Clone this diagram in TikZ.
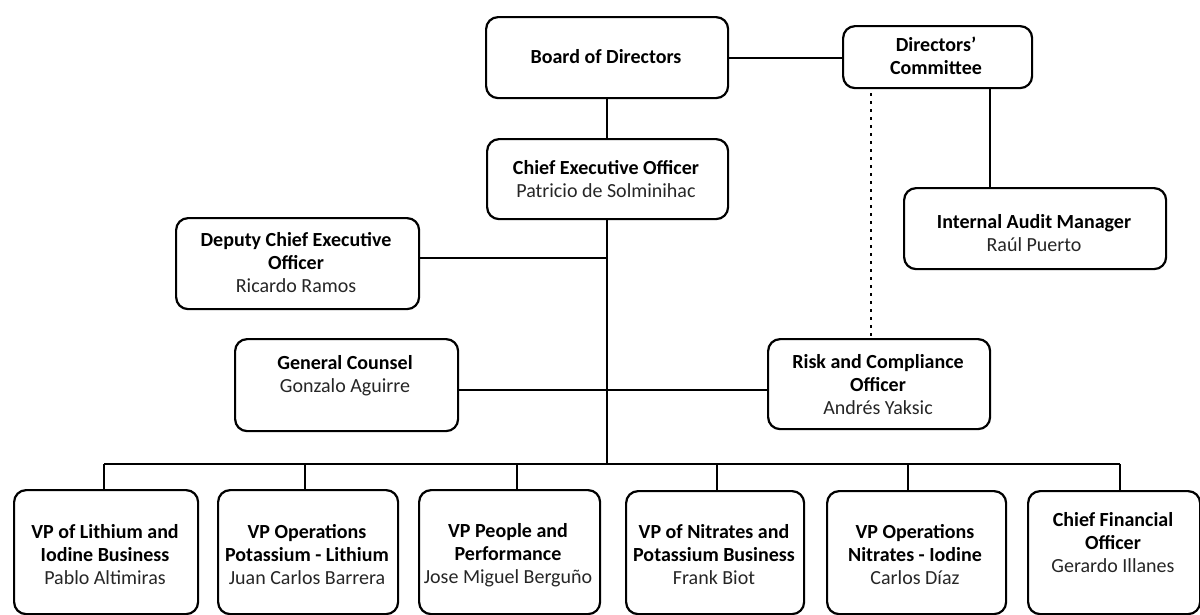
\documentclass[tikz,border=0pt]{standalone}
\usepackage{fontspec}
\setmainfont{Carlito}
\begin{document}
\begin{tikzpicture}[x=1pt,y=-1pt,
  box/.style={draw=black, line width=2.2pt, rounded corners=12pt, inner sep=0pt, anchor=north west, fill=white},
  txt/.style={align=center, inner sep=0pt, font=\fontsize{20}{23}\selectfont},
  link/.style={draw=black, line width=1.8pt},
  dotlink/.style={draw=black, line width=2.6pt, dash pattern=on 3pt off 5pt}]
\useasboundingbox (0,0) rectangle (1200,614);
% boxes
\node[box, minimum width=242pt, minimum height=81pt] (board) at (485,16) {};
\node[box, minimum width=189pt, minimum height=62pt] (dc) at (842,25) {};
\node[box, minimum width=241pt, minimum height=80pt] (ceo) at (486,138) {};
\node[box, minimum width=262pt, minimum height=81pt] (iam) at (903,187) {};
\node[box, minimum width=243pt, minimum height=91pt] (dep) at (175,217) {};
\node[box, minimum width=223pt, minimum height=92pt] (gc) at (234,338) {};
\node[box, minimum width=222pt, minimum height=90pt] (risk) at (767,338) {};
\node[box, minimum width=184pt, minimum height=124pt] (vp1) at (13,489) {};
\node[box, minimum width=180pt, minimum height=124pt] (vp2) at (217,489) {};
\node[box, minimum width=181pt, minimum height=124pt] (vp3) at (418,489) {};
\node[box, minimum width=178pt, minimum height=123pt] (vp4) at (625,490) {};
\node[box, minimum width=179pt, minimum height=123pt] (vp5) at (826,490) {};
\node[box, minimum width=172pt, minimum height=123pt] (cfo) at (1027,490) {};
% texts
\node[txt] (tboard) at (606,57) {\textbf{Board of Directors}};
\node[txt] (tdc) at (936,56) {\textbf{Directors’}\\\textbf{Committee}};
\node[txt] (tceo) at (606,179) {\textbf{Chief Executive Officer}\\\textcolor{black!85}{Patricio de Solminihac}};
\node[txt] (tiam) at (1034,233) {\textbf{Internal Audit Manager}\\\textcolor{black!85}{Raúl Puerto}};
\node[txt] (tdep) at (296,263) {\textbf{Deputy Chief Executive}\\\textbf{Officer}\\\textcolor{black!85}{Ricardo Ramos}};
\node[txt] (tgc) at (345,376) {\textbf{General Counsel}\\\textcolor{black!85}{Gonzalo Aguirre}};
\node[txt] (trisk) at (878,385) {\textbf{Risk and Compliance}\\\textbf{Officer}\\\textcolor{black!85}{Andrés Yaksic}};
\node[txt] (tvp1) at (105,555) {\textbf{VP of Lithium and}\\\textbf{Iodine Business}\\\textcolor{black!85}{Pablo Altimiras}};
\node[txt] (tvp2) at (307,555) {\textbf{VP Operations}\\\textbf{Potassium - Lithium}\\\textcolor{black!85}{Juan Carlos Barrera}};
\node[txt] (tvp3) at (508,555) {\textbf{VP People and}\\\textbf{Performance}\\\textcolor{black!85}{Jose Miguel Berguño}};
\node[txt] (tvp4) at (714,555) {\textbf{VP of Nitrates and}\\\textbf{Potassium Business}\\\textcolor{black!85}{Frank Biot}};
\node[txt] (tvp5) at (915,555) {\textbf{VP Operations}\\\textbf{Nitrates - Iodine}\\\textcolor{black!85}{Carlos Díaz}};
\node[txt] (tcfo) at (1113,543) {\textbf{Chief Financial}\\\textbf{Officer}\\\textcolor{black!85}{Gerardo Illanes}};
% junction coordinates
\coordinate (hub) at (607,464);
\coordinate (dj) at (607,258);
\coordinate (gj) at (607,390);
\coordinate (ia) at (990,150);
\coordinate (rk) at (871,150);
\coordinate (b1) at (104,464);
\coordinate (b2) at (305,464);
\coordinate (b3) at (517,464);
\coordinate (b4) at (717,464);
\coordinate (b5) at (908,464);
\coordinate (b6) at (1120,464);
% connectors
\draw[link] (board.east) -- (board.east -| dc.west);
\draw[link] (board.south -| hub) -- (ceo.north -| hub);
\draw[link] (ceo.south -| hub) -- (hub);
\draw[link] (dj -| dep.east) -- (dj);
\draw[link] (gj -| gc.east) -- (gj -| risk.west);
\draw[link] (b1) -- (b6);
\draw[link] (b1) -- (b1 |- vp1.north);
\draw[link] (b2) -- (b2 |- vp2.north);
\draw[link] (b3) -- (b3 |- vp3.north);
\draw[link] (b4) -- (b4 |- vp4.north);
\draw[link] (b5) -- (b5 |- vp5.north);
\draw[link] (b6) -- (b6 |- cfo.north);
\draw[link] (dc.south -| ia) -- (iam.north -| ia);
\draw[dotlink] ([yshift=-4pt]dc.south -| rk) -- (risk.north -| rk);
\end{tikzpicture}
\end{document}
